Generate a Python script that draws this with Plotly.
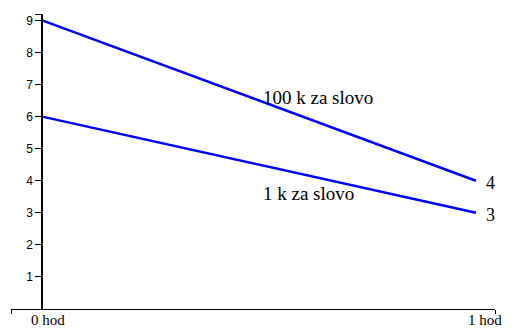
import plotly.graph_objects as go

# data
x_cats = [0, 1]
x_labels = ["0 hod", "1 hod"]
y_100k = [9, 4]
y_1k = [6, 3]
series_names = ["100 k za slovo", "1 k za slovo"]
y_ticks = [1, 2, 3, 4, 5, 6, 7, 8, 9]

X_RANGE = [-0.072, 1.044]
Y_RANGE = [0, 9.2]
BLUE = "#0000ff"
SERIF = "'Liberation Serif', 'Times New Roman', Times, serif"
SANS = "'Liberation Sans', Arial, sans-serif"

fig = go.Figure()
for ys in (y_100k, y_1k):
    fig.add_trace(go.Scatter(x=x_cats, y=ys, mode="lines",
                             line=dict(color=BLUE, width=2.5),
                             showlegend=False, hoverinfo="skip"))

# series labels in the middle and end values
fig.add_annotation(x=0.505, y=6.6, text=series_names[0], showarrow=False,
                   xanchor="left", font=dict(family=SERIF, size=19, color="black"))
fig.add_annotation(x=0.505, y=3.6, text=series_names[1], showarrow=False,
                   xanchor="left", font=dict(family=SERIF, size=19, color="black"))
for ys in (y_100k, y_1k):
    fig.add_annotation(x=x_cats[-1], y=ys[-1], text=str(ys[-1]), showarrow=False,
                       xanchor="left", xshift=8, yshift=-2,
                       font=dict(family=SERIF, size=18, color="black"))

# x category labels under the axis
for xv, lab, shift in zip(x_cats, x_labels, [6, 9]):
    fig.add_annotation(x=xv, y=0, yref="paper", text=lab, showarrow=False,
                       xanchor="center", yanchor="top", xshift=shift, yshift=-1,
                       font=dict(family=SERIF, size=15, color="black"))

fig.update_layout(
    width=513, height=328,
    margin=dict(l=11, r=18, t=14, b=19),
    paper_bgcolor="white", plot_bgcolor="white",
    xaxis=dict(range=X_RANGE, showgrid=False, zeroline=False,
               showline=True, linecolor="black", linewidth=1,
               ticks="outside", ticklen=4, tickcolor="black",
               tickvals=X_RANGE, ticktext=["", ""]),
    yaxis=dict(range=Y_RANGE, showgrid=False, zeroline=False,
               anchor="free", position=31 / 484,
               showline=True, linecolor="black", linewidth=1.5,
               ticks="outside", ticklen=6, tickcolor="black",
               tickvals=y_ticks + [Y_RANGE[1]],
               ticktext=[str(t) for t in y_ticks] + [""],
               tickfont=dict(family=SANS, size=12, color="black")),
)

fig.write_html("out.html", config={"displayModeBar": False},
               post_script="document.body.style.margin='0';")
